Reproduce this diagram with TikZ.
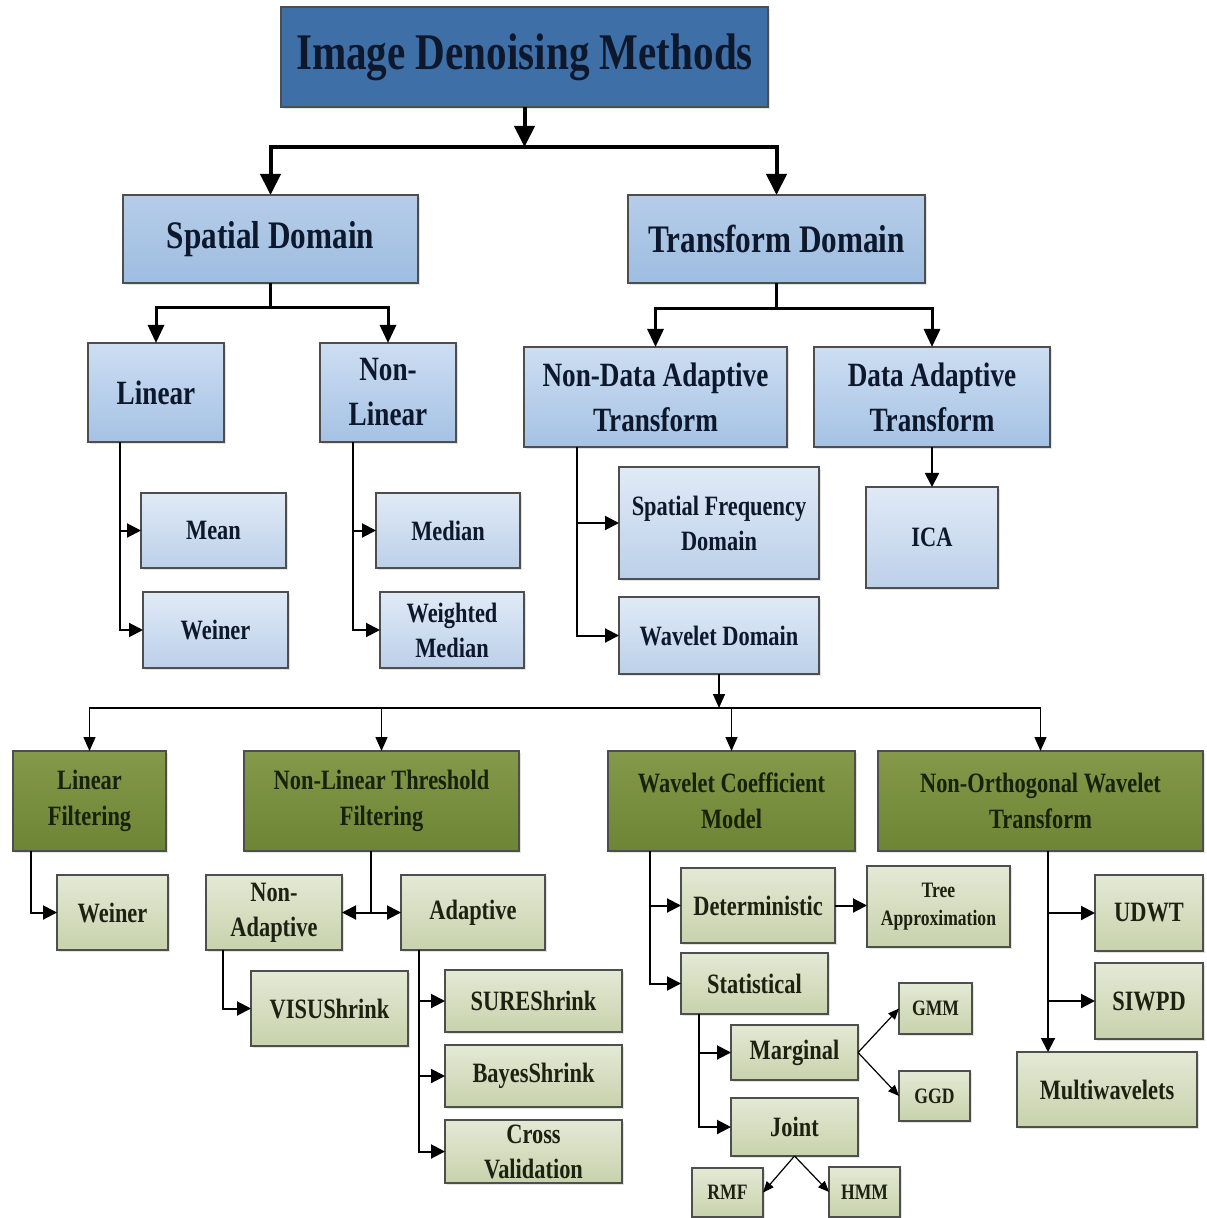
\documentclass[tikz,border=0pt]{standalone}
\usepackage{fontspec}
\setmainfont{Liberation Serif}[FakeStretch=0.8]
\usetikzlibrary{arrows.meta,calc,shadows}
\definecolor{titleblue}{RGB}{62,111,166}
\definecolor{navy}{RGB}{14,24,44}
\definecolor{bigT}{RGB}{182,205,233}
\definecolor{bigB}{RGB}{158,189,224}
\definecolor{midT}{RGB}{205,222,242}
\definecolor{midB}{RGB}{165,194,228}
\definecolor{smT}{RGB}{224,234,246}
\definecolor{smB}{RGB}{188,208,233}
\definecolor{gT}{RGB}{132,153,74}
\definecolor{gB}{RGB}{110,133,54}
\definecolor{gText}{RGB}{24,34,10}
\definecolor{lgT}{RGB}{228,233,213}
\definecolor{lgB}{RGB}{200,210,172}
\definecolor{lgText}{RGB}{28,34,18}
\definecolor{edge}{RGB}{78,78,78}
\newcommand\bx[7]{\node[#2, minimum width={(#5-#3)*0.5pt}, minimum height={(#6-#4)*0.5pt}] (#1) at ({(#3+#5)/2},{(#4+#6)/2}) {#7};}
\begin{document}
\begin{tikzpicture}[x=0.5pt,y=-0.5pt,
  base/.style={draw=edge, line width=0.6pt, inner sep=0pt, outer sep=0pt, align=center,
    drop shadow={shadow xshift=0.8pt, shadow yshift=-0.8pt, opacity=0.22}},
  titlebox/.style={base, fill=titleblue, text=navy, font=\bfseries\fontsize{25.7}{30}\selectfont},
  bigblue/.style={base, top color=bigT, bottom color=bigB, text=navy, font=\bfseries\fontsize{19.5}{24}\selectfont},
  midblue/.style={base, top color=midT, bottom color=midB, text=navy, font=\bfseries\fontsize{17}{22.5}\selectfont},
  smblue/.style={base, top color=smT, bottom color=smB, text=navy, font=\bfseries\fontsize{14}{17.5}\selectfont},
  greenbox/.style={base, top color=gT, bottom color=gB, text=gText, font=\bfseries\fontsize{14}{18}\selectfont},
  lgreen/.style={base, top color=lgT, bottom color=lgB, text=lgText, font=\bfseries\fontsize{14}{17.5}\selectfont},
  lgsmall/.style={lgreen, font=\bfseries\fontsize{11}{14}\selectfont},
  aone/.style={line width=2pt, -{Triangle[length=10.5pt,width=10pt]}},
  atwo/.style={line width=1.5pt, -{Triangle[length=9pt,width=8pt]}},
  athree/.style={line width=1pt, -{Triangle[length=7pt,width=7pt]}},
  afour/.style={line width=0.7pt, -{Triangle[length=7pt,width=6pt]}},
  afive/.style={line width=1pt, -{Triangle[length=7pt,width=7pt]}},
  asix/.style={line width=0.6pt, -{Triangle[length=5.5pt,width=4.5pt]}}
]
\fill[white] (0,0) rectangle (1206,1218);
\useasboundingbox (0,0) rectangle (1206,1218);

% nodes
\bx{title}{titlebox}{281}{7}{768}{107}{Image Denoising Methods}
\bx{sd}{bigblue}{123}{195}{418}{283}{Spatial Domain}
\bx{td}{bigblue}{628}{195}{925}{283}{Transform Domain}
\bx{lin}{midblue}{88}{343}{224}{442}{Linear}
\bx{nlin}{midblue}{320}{343}{456}{442}{Non-\\Linear}
\bx{nda}{midblue}{524}{347}{787}{447}{Non-Data Adaptive\\Transform}
\bx{da}{midblue}{814}{347}{1050}{447}{Data Adaptive\\Transform}
\bx{mean}{smblue}{141}{493}{286}{568}{Mean}
\bx{weinA}{smblue}{143}{592}{288}{668}{Weiner}
\bx{med}{smblue}{376}{493}{520}{568}{Median}
\bx{wmed}{smblue}{380}{592}{524}{668}{Weighted\\Median}
\bx{sfd}{smblue}{619}{467}{819}{579}{Spatial Frequency\\Domain}
\bx{wd}{smblue}{619}{597}{819}{674}{Wavelet Domain}
\bx{ica}{smblue}{866}{487}{998}{588}{ICA}
\bx{lf}{greenbox}{13}{751}{166}{851}{Linear\\Filtering}
\bx{nltf}{greenbox}{244}{751}{519}{851}{Non-Linear Threshold\\Filtering}
\bx{wcm}{greenbox}{608}{751}{855}{851}{Wavelet Coefficient\\Model}
\bx{nowt}{greenbox}{878}{751}{1203}{851}{Non-Orthogonal Wavelet\\Transform}
\bx{weinB}{lgreen}{57}{875}{168}{950}{Weiner}
\bx{nad}{lgreen}{206}{875}{342}{950}{Non-\\Adaptive}
\bx{ad}{lgreen}{401}{875}{545}{950}{Adaptive}
\bx{visu}{lgreen}{251}{971}{408}{1046}{VISUShrink}
\bx{sure}{lgreen}{445}{970}{622}{1032}{SUREShrink}
\bx{bayes}{lgreen}{445}{1045}{622}{1107}{BayesShrink}
\bx{cv}{lgreen}{445}{1120}{622}{1183}{Cross\\Validation}
\bx{det}{lgreen}{681}{868}{835}{943}{Deterministic}
\bx{tree}{lgsmall}{867}{866}{1010}{947}{Tree\\Approximation}
\bx{stat}{lgreen}{681}{953}{828}{1014}{Statistical}
\bx{marg}{lgreen}{731}{1025}{858}{1080}{Marginal}
\bx{joint}{lgreen}{731}{1098}{858}{1156}{Joint}
\bx{gmm}{lgsmall}{899}{983}{972}{1034}{GMM}
\bx{ggd}{lgsmall}{899}{1071}{970}{1121}{GGD}
\bx{rmf}{lgsmall}{692}{1168}{763}{1217}{RMF}
\bx{hmm}{lgsmall}{829}{1167}{900}{1217}{HMM}
\bx{udwt}{lgreen}{1095}{875}{1203}{951}{UDWT}
\bx{siwpd}{lgreen}{1095}{963}{1203}{1039}{SIWPD}
\bx{mw}{lgreen}{1017}{1052}{1197}{1127}{Multiwavelets}

% connectors: level 1
\draw[aone] (title.south) -- ($(title.south)+(0,40)$) coordinate (tj);
\draw[aone] (tj) -| (sd.north);
\draw[aone] (tj) -| (td.north);

% level 2
\draw[line width=1.5pt] (sd.south) -- ($(sd.south)+(0,25)$) coordinate (sj);
\draw[atwo] (sj) -| (lin.north);
\draw[atwo] (sj) -| (nlin.north);
\draw[line width=1.5pt] (td.south) -- ($(td.south)+(0,26)$) coordinate (tdj);
\draw[atwo] (tdj) -| (nda.north);
\draw[atwo] (tdj) -| (da.north);

% level 3
\draw[athree] ($(lin.south west)+(32,0)$) |- (mean.west);
\draw[athree] ($(lin.south west)+(32,0)$) |- (weinA.west);
\draw[athree] ($(nlin.south west)+(33,0)$) |- (med.west);
\draw[athree] ($(nlin.south west)+(33,0)$) |- (wmed.west);
\draw[athree] ($(nda.south west)+(53,0)$) |- (sfd.west);
\draw[athree] ($(nda.south west)+(53,0)$) |- (wd.west);
\draw[athree] (da.south) -- (ica.north);

% wavelet domain distribution
\draw[afour] (wd.south) -- ($(wd.south)+(0,34)$) coordinate (wj);
\draw[afour] (wj) -| (lf.north);
\draw[afour] (wj) -| (nltf.north);
\draw[afour] (wj) -| (wcm.north);
\draw[afour] (wj) -| (nowt.north);

% lower level
\draw[afive] ($(lf.south west)+(18,0)$) |- (weinB.west);
\draw[afive] ($(nltf.south west)+(127,0)$) |- (nad.east);
\draw[afive] ($(nltf.south west)+(127,0)$) |- (ad.west);
\draw[afive] ($(nad.south west)+(17,0)$) |- (visu.west);
\draw[afive] ($(ad.south west)+(18,0)$) |- (sure.west);
\draw[afive] ($(ad.south west)+(18,0)$) |- (bayes.west);
\draw[afive] ($(ad.south west)+(18,0)$) |- (cv.west);
\draw[afive] ($(wcm.south west)+(42,0)$) |- (det.west);
\draw[afive] ($(wcm.south west)+(42,0)$) |- (stat.west);
\draw[afive] (det.east) -- (tree.west |- det.east);
\draw[afive] ($(stat.south west)+(18,0)$) |- (marg.west);
\draw[afive] ($(stat.south west)+(18,0)$) |- (joint.west);
\draw[asix] (marg.east) -- (gmm.west);
\draw[asix] (marg.east) -- (ggd.west);
\draw[asix] (joint.south) -- (rmf.east);
\draw[asix] (joint.south) -- (hmm.west);
\draw[afive] ($(nowt.south west)+(170,0)$) |- (udwt.west);
\draw[afive] ($(nowt.south west)+(170,0)$) |- (siwpd.west);
\draw[afive] ($(nowt.south west)+(170,0)$) -- ($(mw.north west)+(31,0)$);
\end{tikzpicture}
\end{document}
